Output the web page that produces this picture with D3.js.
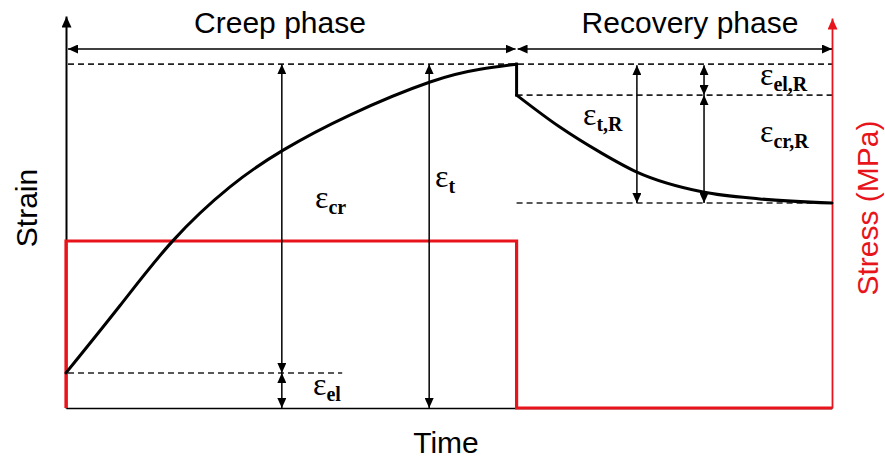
<!DOCTYPE html>
<html>
<head>
<meta charset="utf-8">
<script src="https://cdn.jsdelivr.net/npm/d3@7"></script>
<style>
  html, body { margin: 0; padding: 0; background: #fff; }
  svg { display: block; }
</style>
</head>
<body>
<svg id="chart" width="885" height="458"></svg>
<script>
// Creep–recovery test: strain response (black) to a stress step (red).

// Creep phase: stress held from t = 0 to t = 10
const creepTime   = [0, 1.2, 2.37, 3.64, 4.82, 6.3, 8.08, 9.19, 10];
const creepStrain = [0.102, 0.298, 0.486, 0.643, 0.75, 0.852, 0.948, 0.985, 1.0];

// Recovery phase: stress removed, t = 10 to t = 17
const recoveryTime   = [10, 10.96, 11.85, 12.67, 14.14, 15.4, 17];
const recoveryStrain = [0.91, 0.817, 0.744, 0.686, 0.628, 0.608, 0.596];

// Applied stress (step load)
const stressTime  = [0, 0, 10, 10, 17];
const stressValue = [0, 1, 1, 0, 0];

// Characteristic strain levels
const strainElastic   = 0.102; // instantaneous elastic strain on loading
const strainTotal     = 1.0;   // total strain at end of creep
const strainUnloaded  = 0.91;  // strain right after elastic recovery
const strainResidual  = 0.596; // strain left at end of recovery

const phaseLabels = ["Creep phase", "Recovery phase"];
const axisTitles  = { x: "Time", y: "Strain", y2: "Stress (MPa)" };

const svg = d3.select("#chart");

const x  = d3.scaleLinear().domain([0, 17]).range([66, 832]);
const y  = d3.scaleLinear().domain([0, 1.14]).range([408, 16]);
const y2 = d3.scaleLinear().domain([0, 2.335]).range([408, 18]);

const RED = "#e8141c";
const DASH = "#222";

// arrowhead markers
const defs = svg.append("defs");
function marker(id, color, len, half) {
  defs.append("marker")
    .attr("id", id)
    .attr("viewBox", `0 ${-half} ${len} ${2 * half}`)
    .attr("refX", len).attr("refY", 0)
    .attr("markerWidth", len).attr("markerHeight", 2 * half)
    .attr("markerUnits", "userSpaceOnUse")
    .attr("orient", "auto-start-reverse")
    .append("path")
    .attr("d", `M0,${-half}L${len},0L0,${half}Z`)
    .attr("fill", color);
}
marker("arrowK", "#000", 10, 4.5);
marker("arrowAxis", "#000", 11, 5);
marker("arrowR", RED, 11, 5);

// ----- dashed reference levels -----
const dashes = [
  { x0: x(0) + 2, x1: x(17), s: strainTotal },
  { x0: x(0) + 2, x1: x(6.13), s: strainElastic },
  { x0: x(10), x1: x(17), s: strainUnloaded },
  { x0: x(10), x1: x(17), s: strainResidual }
];
svg.append("g").selectAll("line").data(dashes).join("line")
  .attr("x1", d => d.x0).attr("x2", d => d.x1)
  .attr("y1", d => y(d.s)).attr("y2", d => y(d.s))
  .attr("stroke", DASH).attr("stroke-width", 1.6)
  .attr("stroke-dasharray", "6,4");

// ----- axes -----
const gx = svg.append("g").attr("transform", `translate(0,${y(0)})`)
  .call(d3.axisBottom(x).tickValues([]).tickSizeOuter(0));
gx.select(".domain").attr("stroke", "#000").attr("stroke-width", 1.6);

const gy = svg.append("g").attr("transform", `translate(${x(0)},0)`)
  .call(d3.axisLeft(y).tickValues([]).tickSizeOuter(0));
gy.select(".domain").attr("stroke", "#000").attr("stroke-width", 2)
  .attr("marker-end", "url(#arrowAxis)");

const gy2 = svg.append("g").attr("transform", `translate(${x(17)},0)`)
  .call(d3.axisRight(y2).tickValues([]).tickSizeOuter(0));
gy2.select(".domain").attr("stroke", RED).attr("stroke-width", 1.8)
  .attr("marker-end", "url(#arrowR)");

// ----- stress step -----
const stressLine = d3.line()
  .x((d, i) => x(stressTime[i]))
  .y((d, i) => y2(stressValue[i]));
svg.append("path")
  .attr("d", stressLine(stressTime))
  .attr("fill", "none").attr("stroke", RED).attr("stroke-width", 3.2)
  .attr("stroke-linejoin", "miter");

// ----- strain response -----
const strainLine = d3.line().curve(d3.curveNatural);
const creepPts = creepTime.map((t, i) => [x(t), y(creepStrain[i])]);
const recPts = recoveryTime.map((t, i) => [x(t), y(recoveryStrain[i])]);
svg.append("path").attr("d", strainLine(creepPts))
  .attr("fill", "none").attr("stroke", "#000").attr("stroke-width", 3)
  .attr("stroke-linecap", "round");
svg.append("path").attr("d", d3.line()([
    [x(10), y(strainTotal)], [x(10), y(strainUnloaded)]
  ]))
  .attr("fill", "none").attr("stroke", "#000").attr("stroke-width", 3)
  .attr("stroke-linecap", "square");
svg.append("path").attr("d", d3.line().curve(d3.curveMonotoneX)(recPts))
  .attr("fill", "none").attr("stroke", "#000").attr("stroke-width", 3)
  .attr("stroke-linecap", "round");

// ----- dimension arrows -----
function dimArrow(x1, y1, x2, y2p) {
  svg.append("line")
    .attr("x1", x1).attr("y1", y1).attr("x2", x2).attr("y2", y2p)
    .attr("stroke", "#000").attr("stroke-width", 1.5)
    .attr("marker-start", "url(#arrowK)")
    .attr("marker-end", "url(#arrowK)");
}
// phase spans
const phaseY = 49;
dimArrow(x(0) + 2, phaseY, x(10) - 1, phaseY);
dimArrow(x(10) + 1, phaseY, x(17), phaseY);
// creep strains
dimArrow(x(4.79), y(strainTotal), x(4.79), y(strainElastic));
dimArrow(x(4.79), y(strainElastic), x(4.79), y(0));
dimArrow(x(8.06), y(strainTotal), x(8.06), y(0));
// recovery strains
dimArrow(x(12.67), y(strainTotal) + 1, x(12.67), y(strainResidual));
dimArrow(x(14.16), y(strainTotal) + 1, x(14.16), y(strainUnloaded));
dimArrow(x(14.16), y(strainUnloaded), x(14.16), y(strainResidual));

// ----- titles -----
const sans = "'Liberation Sans', Arial, sans-serif";
svg.append("text").attr("x", 280).attr("y", 33)
  .attr("text-anchor", "middle").attr("font-family", sans).attr("font-size", 30)
  .text(phaseLabels[0]);
svg.append("text").attr("x", 690).attr("y", 33)
  .attr("text-anchor", "middle").attr("font-family", sans).attr("font-size", 30)
  .text(phaseLabels[1]);
svg.append("text").attr("x", 446).attr("y", 453)
  .attr("text-anchor", "middle").attr("font-family", sans).attr("font-size", 30)
  .text(axisTitles.x);
svg.append("text").attr("transform", "translate(37,208) rotate(-90)")
  .attr("text-anchor", "middle").attr("font-family", sans).attr("font-size", 30)
  .text(axisTitles.y);
svg.append("text").attr("transform", "translate(878,208) rotate(-90)")
  .attr("text-anchor", "middle").attr("font-family", sans).attr("font-size", 30)
  .attr("fill", RED)
  .text(axisTitles.y2);

// ----- strain symbols -----
const serif = "'Liberation Serif', 'DejaVu Serif', serif";
const symbols = [
  { sub: "cr",   px: 315, py: 208 },
  { sub: "t",    px: 435, py: 187 },
  { sub: "el",   px: 313, py: 395 },
  { sub: "t,R",  px: 583, py: 125 },
  { sub: "el,R", px: 760, py: 85 },
  { sub: "cr,R", px: 760, py: 142 }
];
symbols.forEach(s => {
  const t = svg.append("text").attr("x", s.px).attr("y", s.py)
    .attr("font-family", serif).attr("font-size", 32);
  t.append("tspan").text("ε");
  t.append("tspan").attr("dy", 6).attr("font-size", 20)
    .attr("font-weight", "bold").text(s.sub);
});
</script>
</body>
</html>
